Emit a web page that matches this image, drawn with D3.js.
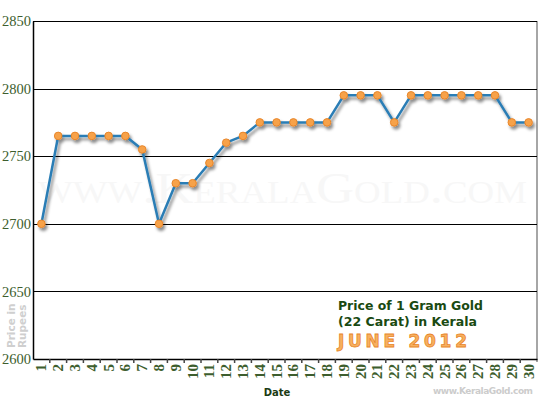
<!DOCTYPE html>
<html>
<head>
<meta charset="utf-8">
<script src="https://cdn.jsdelivr.net/npm/d3@7"></script>
<style>
  body { margin: 0; background: #fff; }
</style>
</head>
<body>
<div id="chart"></div>
<script>
// Days of June 2012 and price per gram (22 carat)
const days = d3.range(1, 31);
const prices = [2700, 2765, 2765, 2765, 2765, 2765, 2755, 2700, 2730, 2730,
  2745, 2760, 2765, 2775, 2775, 2775, 2775, 2775, 2795, 2795,
  2795, 2775, 2795, 2795, 2795, 2795, 2795, 2795, 2775, 2775];
const yTicks = [2600, 2650, 2700, 2750, 2800, 2850];

const svgWidth = 550, svgHeight = 400;
const margins = {left: 33, top: 21, right: 13, bottom: 41};

const svg = d3.select('#chart').append('svg')
  .attr('width', svgWidth)
  .attr('height', svgHeight);

const defs = svg.append('defs');
const shadow = defs.append('filter').attr('id', 'shadow')
  .attr('x', '-20%').attr('y', '-20%').attr('width', '140%').attr('height', '140%');
shadow.append('feDropShadow')
  .attr('dx', 2).attr('dy', 3).attr('stdDeviation', 1.6)
  .attr('flood-color', '#000').attr('flood-opacity', 0.45);

// scales
const xScale = d3.scaleBand().domain(days)
  .range([margins.left, svgWidth - margins.right]);
const yScale = d3.scaleLinear().domain([2600, 2850])
  .range([svgHeight - margins.bottom, margins.top]);

// right border of plot
svg.append('line')
  .attr('x1', svgWidth - margins.right).attr('x2', svgWidth - margins.right)
  .attr('y1', margins.top).attr('y2', svgHeight - margins.bottom + 3)
  .attr('stroke', '#888').attr('stroke-width', 1.5);

// watermark
svg.append('text')
  .attr('x', 38).attr('y', 203)
  .attr('font-family', 'Liberation Serif, serif')
  .attr('font-size', 44)
  .style('font-variant', 'small-caps')
  .attr('textLength', 489)
  .attr('lengthAdjust', 'spacingAndGlyphs')
  .attr('fill', '#f7f7f7')
  .text('www.KeralaGold.com');

// horizontal grid lines
svg.append('g').selectAll('line')
  .data(yTicks.slice(1))
  .enter().append('line')
  .attr('x1', margins.left).attr('x2', svgWidth - margins.right)
  .attr('y1', d => Math.round(yScale(d)) + 0.5)
  .attr('y2', d => Math.round(yScale(d)) + 0.5)
  .attr('stroke', '#000').attr('stroke-width', 1);

// y axis
const yAxis = d3.axisLeft(yScale).tickValues(yTicks)
  .tickFormat(d3.format('d')).tickSize(0).tickPadding(2);
const gy = svg.append('g')
  .attr('transform', 'translate(' + margins.left + ',0)')
  .call(yAxis);
gy.select('.domain').attr('stroke', '#000').attr('stroke-width', 1.5);
gy.selectAll('text')
  .attr('font-family', 'Liberation Serif, serif')
  .attr('font-size', 14.5)
  .attr('fill', '#3d5e2e');

// x axis, ticks at band edges
const xAxis = d3.axisBottom(xScale).tickSize(0).tickPadding(0);
const gx = svg.append('g')
  .attr('transform', 'translate(0,' + (svgHeight - margins.bottom) + ')')
  .call(xAxis);
gx.select('.domain').attr('stroke', '#000').attr('stroke-width', 1.5);
gx.selectAll('text')
  .attr('font-family', 'Liberation Serif, serif')
  .attr('font-size', 15)
  .attr('font-weight', 'bold')
  .attr('fill', '#3d5e2e')
  .attr('text-anchor', 'end')
  .attr('dy', 0)
  .attr('transform', 'translate(5,5)rotate(-90)');
gx.selectAll('.edge')
  .data(days.slice(1))
  .enter().append('line')
  .attr('class', 'edge')
  .attr('x1', d => xScale(d)).attr('x2', d => xScale(d))
  .attr('y1', 0).attr('y2', 4)
  .attr('stroke', '#444').attr('stroke-width', 1.5);

// axis titles
svg.append('text')
  .attr('transform', 'translate(15,348)rotate(-90)')
  .attr('font-family', 'DejaVu Sans, sans-serif')
  .attr('font-size', 10.5).attr('font-weight', 'bold')
  .attr('fill', '#cfcfcf')
  .selectAll('tspan')
  .data(['Price in', 'Rupees'])
  .enter().append('tspan')
  .attr('x', 0).attr('dy', (d, i) => i ? 11 : 0)
  .text(d => d);

svg.append('text')
  .attr('x', 277).attr('y', 396)
  .attr('text-anchor', 'middle')
  .attr('font-family', 'DejaVu Sans, sans-serif')
  .attr('font-size', 10).attr('font-weight', 'bold')
  .attr('fill', '#1b3b14')
  .text('Date');

svg.append('text')
  .attr('x', 533).attr('y', 394)
  .attr('text-anchor', 'end')
  .attr('font-family', 'DejaVu Sans, sans-serif')
  .attr('font-size', 9).attr('font-weight', 'bold')
  .attr('textLength', 100)
  .attr('fill', '#cccccc')
  .text('www.KeralaGold.com');

// title block
svg.append('text')
  .attr('x', 338).attr('y', 310)
  .attr('font-family', 'DejaVu Sans, sans-serif')
  .attr('font-size', 12).attr('font-weight', 'bold')
  .attr('textLength', 145).attr('lengthAdjust', 'spacingAndGlyphs')
  .attr('fill', '#1a4a12')
  .text('Price of 1 Gram Gold');
svg.append('text')
  .attr('x', 338).attr('y', 326)
  .attr('font-family', 'DejaVu Sans, sans-serif')
  .attr('font-size', 12).attr('font-weight', 'bold')
  .attr('textLength', 139).attr('lengthAdjust', 'spacingAndGlyphs')
  .attr('fill', '#1a4a12')
  .text('(22 Carat) in Kerala');
svg.append('text')
  .attr('x', 338).attr('y', 347)
  .attr('font-family', 'DejaVu Sans, sans-serif')
  .attr('font-size', 17).attr('font-weight', 'bold')
  .attr('textLength', 129).attr('lengthAdjust', 'spacing')
  .attr('fill', '#f7b060').attr('stroke', '#e8862a').attr('stroke-width', 0.8)
  .text('JUNE 2012');

// price line with markers
const series = days.map((d, i) => ({day: d, price: prices[i]}));
const cx = d => xScale(d.day) + xScale.bandwidth() / 2;
const line = d3.line().x(cx).y(d => yScale(d.price));

const plot = svg.append('g').attr('filter', 'url(#shadow)');
plot.append('path')
  .datum(series)
  .attr('d', line)
  .attr('fill', 'none')
  .attr('stroke', '#2a7db5')
  .attr('stroke-width', 2.5)
  .attr('stroke-linejoin', 'round');
plot.selectAll('circle')
  .data(series)
  .enter().append('circle')
  .attr('cx', cx)
  .attr('cy', d => yScale(d.price))
  .attr('r', 3.8)
  .attr('fill', '#f7a24a')
  .attr('stroke', '#e8862a')
  .attr('stroke-width', 1);
</script>
</body>
</html>
